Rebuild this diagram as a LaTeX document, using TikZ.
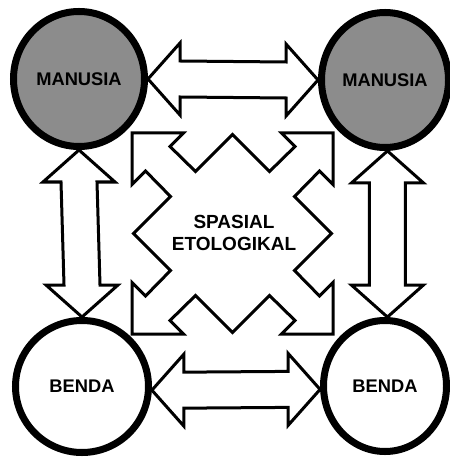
\documentclass[tikz,border=0pt]{standalone}
\usepackage{fontspec}
\setmainfont{Liberation Sans}
\usetikzlibrary{calc,shapes.geometric}
\newcommand\harr[2]{%
  \draw[bigarr] (#1) -- ($(#1)+(32,-36)$) -- ($(#1)+(32,-18)$) -- ($(#2)+(-32,-18)$)
   -- ($(#2)+(-32,-36)$) -- (#2) -- ($(#2)+(-32,36)$) -- ($(#2)+(-32,18)$)
   -- ($(#1)+(32,18)$) -- ($(#1)+(32,36)$) -- cycle;}
\newcommand\varr[2]{%
  \draw[bigarr] (#1) -- ($(#1)+(-36,32)$) -- ($(#1)+(-18,32)$) -- ($(#2)+(-18,-32)$)
   -- ($(#2)+(-36,-32)$) -- (#2) -- ($(#2)+(36,-32)$) -- ($(#2)+(18,-32)$)
   -- ($(#1)+(18,32)$) -- ($(#1)+(36,32)$) -- cycle;}
\begin{document}
\begin{tikzpicture}[x=1bp,y=-1bp,
  txt/.style={font=\fontsize{18.3bp}{22bp}\selectfont\bfseries},
  ring/.style={ellipse, draw, line width=7bp, inner sep=0pt, txt},
  person/.style={ring, fill=black!45},
  bigarr/.style={draw, line width=3bp, line join=miter, fill=white},
  lbl/.style={font=\fontsize{19bp}{22bp}\selectfont\bfseries, align=center}]
\useasboundingbox (0,0) rectangle (450,457);
\node[person, minimum width=131bp, minimum height=135bp] (m1) at (79,79) {MANUSIA};
\node[person, minimum width=127bp, minimum height=135bp] (m2) at (385,80) {MANUSIA};
\node[ring, minimum width=133bp, minimum height=132bp] (b1) at (82,386.5) {BENDA};
\node[ring, minimum width=123bp, minimum height=131bp] (b2) at (385,386) {BENDA};
\harr{m1.east}{m2.west}
\harr{b1.-3}{b2.183}
\varr{m1.south}{b1.north}
\varr{m2.-88}{b2.88}
\coordinate (c) at (232.5,233.5);
\draw[bigarr, shift={(c)}]
  (-100.5,-100.5) -- (-49,-100.5) -- (-62.5,-87) -- (-37,-62) -- (0,-99) -- (37,-62)
  -- (62.5,-87) -- (49,-100.5) -- (100.5,-100.5) -- (100.5,-49) -- (87,-62.5) -- (62,-37)
  -- (99,0) -- (62,37) -- (87,62.5) -- (100.5,49) -- (100.5,100.5) -- (49,100.5)
  -- (62.5,87) -- (37,62) -- (0,99) -- (-37,62) -- (-62.5,87) -- (-49,100.5)
  -- (-100.5,100.5) -- (-100.5,49) -- (-87,62.5) -- (-62,37) -- (-99,0) -- (-62,-37)
  -- (-87,-62.5) -- (-100.5,-49) -- cycle;
\node[lbl] (sp) at (234,232.5) {SPASIAL\\ETOLOGIKAL};
\end{tikzpicture}
\end{document}
